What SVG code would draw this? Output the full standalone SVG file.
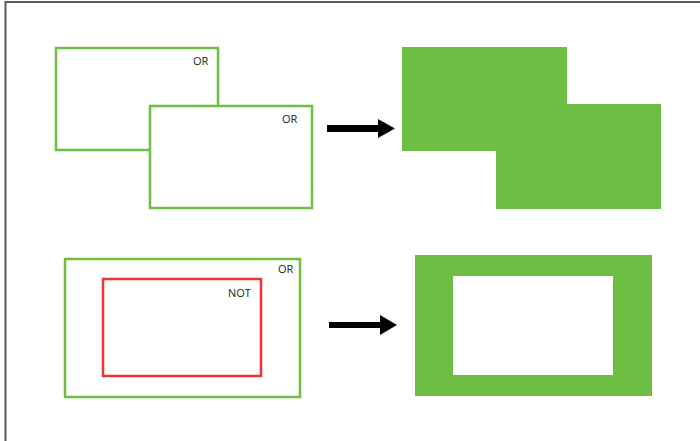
<svg xmlns="http://www.w3.org/2000/svg" width="700" height="441" viewBox="0 0 700 441">
<style>
.frame{fill:none;stroke:#5a5a5a;stroke-width:2}
.ob{fill:none;stroke:#6fbe44;stroke-width:2.5}
.nb{fill:none;stroke:#ee3333;stroke-width:2.5}
.fill{fill:#6fbe44}
.lbl{font-family:"Open Sans","Liberation Sans",sans-serif;font-size:11px;fill:#222}
.arr{fill:#000}
</style>
<rect width="700" height="441" fill="#fff"/>
<path class="frame" d="M5.5,441 V2 H700"/>
<g id="or-rect-1">
<rect class="ob" x="56" y="48" width="162" height="102" fill="#fff"/>
<text class="lbl" x="193" y="65">OR</text>
</g>
<g id="or-rect-2">
<rect class="ob" x="150" y="106" width="162" height="102" fill="#fff" style="fill:#fff"/>
<text class="lbl" x="282" y="123">OR</text>
</g>
<g id="union-result">
<polygon class="fill" points="402,47 567,47 567,104 661,104 661,209 496,209 496,151 402,151"/>
</g>
<g id="or-rect-3">
<rect class="ob" x="65" y="259" width="235" height="138"/>
<text class="lbl" x="278" y="273">OR</text>
</g>
<g id="not-rect">
<rect class="nb" x="103" y="279" width="158" height="97"/>
<text class="lbl" x="228" y="297">NOT</text>
</g>
<g id="frame-result">
<path class="fill" fill-rule="evenodd" d="M415,255 H652 V396 H415 Z M453,276 V375 H613 V276 Z"/>
</g>
<g id="connectors">
<polygon class="arr" points="327,125 378,125 378,119 395,128.5 378,138 378,132 327,132"/>
<polygon class="arr" points="329,322 380,322 380,315 397,325 380,335 380,328 329,328"/>
</g>
</svg>
